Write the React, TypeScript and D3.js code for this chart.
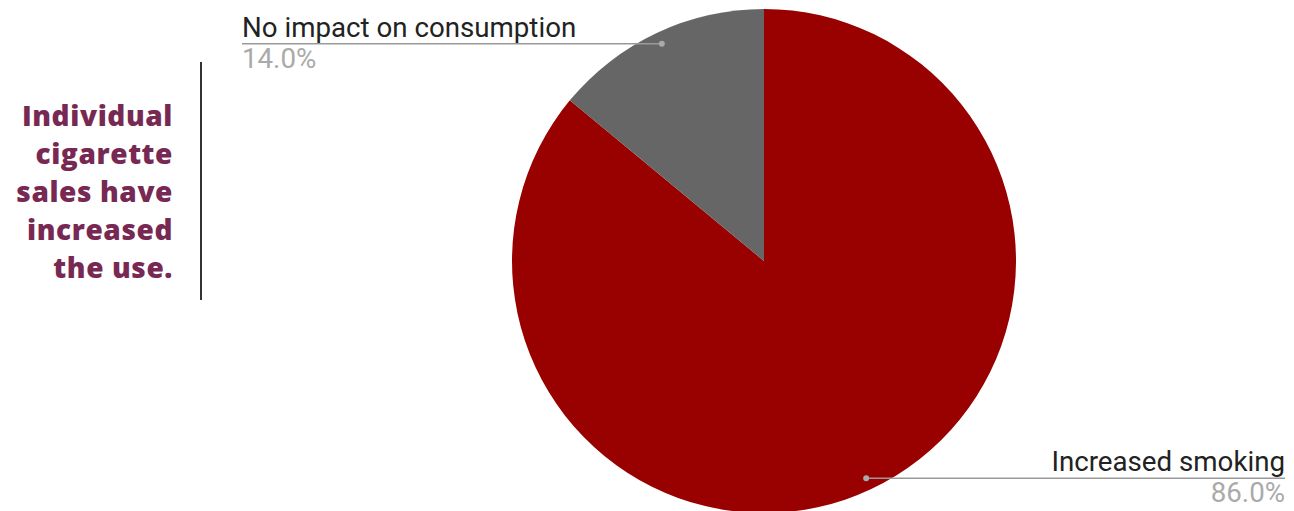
import React from "react";
import * as d3 from "d3";

const categories = ["No impact on consumption", "Increased smoking"];
const values = [14.0, 86.0];
const colors = ["#666666", "#990000"];
const titleLines = ["Individual", "cigarette", "sales have", "increased", "the use."];

const W = 1294, H = 511;
const cx = 764, cy = 261, R = 252;

export default function App() {
  const pie = d3.pie<number>().sort(null).startAngle(0).endAngle(2 * Math.PI);
  const arcsData = pie([values[1], values[0]]);
  const arc = d3.arc<d3.PieArcDatum<number>>().innerRadius(0).outerRadius(R);
  const dotR = 240;
  const redArc = arcsData[0];
  const greyArc = arcsData[1];
  const mid = (a: d3.PieArcDatum<number>) => (a.startAngle + a.endAngle) / 2;
  const pt = (ang: number) => [cx + dotR * Math.sin(ang), cy - dotR * Math.cos(ang)];
  const gDot = pt(mid(greyArc));
  const rDot = pt(mid(redArc));
  const fmt = d3.format(".1f");
  const lf = 27.7;
  return (
    <svg width={W} height={H} style={{ position: "absolute", left: 0, top: 0 }}>
      <rect width={W} height={H} fill="#fff" />
      <g transform={`translate(${cx},${cy})`}>
        <path d={arc(redArc) || ""} fill={colors[1]} />
        <path d={arc(greyArc) || ""} fill={colors[0]} />
      </g>
      <line x1={242} x2={gDot[0]} y1={gDot[1]} y2={gDot[1]} stroke="#999" strokeWidth={1.5} />
      <circle cx={gDot[0]} cy={gDot[1]} r={3} fill="#aaa" />
      <text x={242} y={37} fontFamily="Roboto" fontSize={lf} fill="#222">{categories[0]}</text>
      <text x={242} y={68} fontFamily="Roboto" fontSize={lf} fill="#aaaaaa">{fmt(values[0])}%</text>
      <line x1={rDot[0]} x2={1285} y1={rDot[1]} y2={rDot[1]} stroke="#999" strokeWidth={1.5} />
      <circle cx={rDot[0]} cy={rDot[1]} r={3} fill="#aaa" />
      <text x={1285} y={471} textAnchor="end" fontFamily="Roboto" fontSize={lf} fill="#222">{categories[1]}</text>
      <text x={1285} y={502} textAnchor="end" fontFamily="Roboto" fontSize={lf} fill="#aaaaaa">{fmt(values[1])}%</text>
      {titleLines.map((t, i) => (
        <text key={i} x={173} y={126 + i * 38} textAnchor="end" fontFamily="Open Sans" fontWeight={800} fontSize={28} letterSpacing={0.6} fill="#772953">{t}</text>
      ))}
      <line x1={201} x2={201} y1={62} y2={300} stroke="#333" strokeWidth={2} />
    </svg>
  );
}
